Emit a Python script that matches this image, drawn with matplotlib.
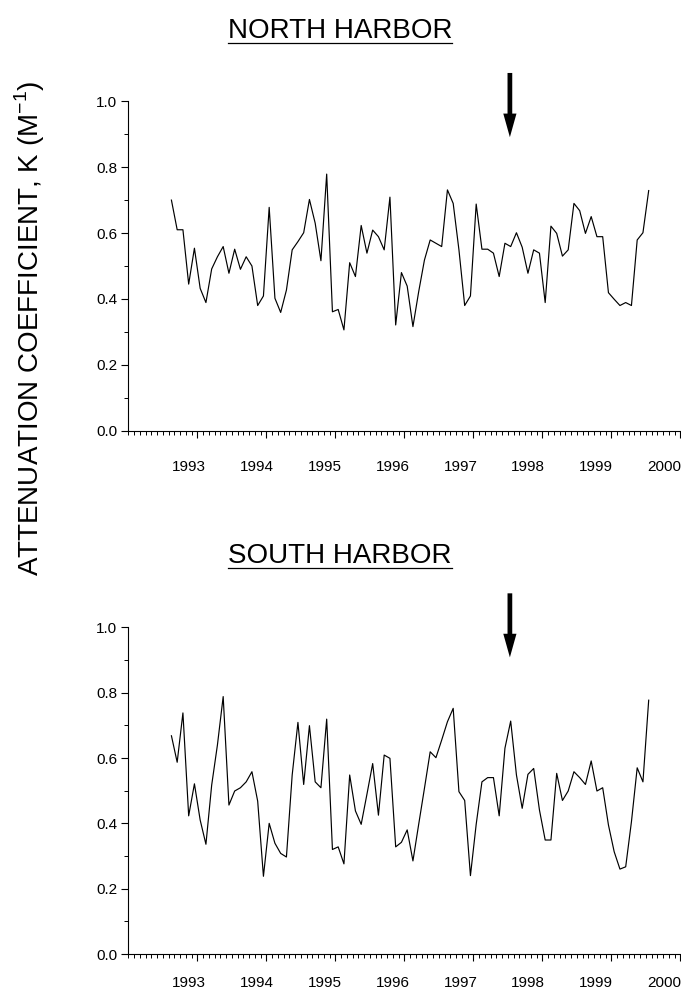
import numpy as np
import matplotlib.pyplot as plt
from matplotlib.lines import Line2D
from matplotlib.ticker import MultipleLocator
import matplotlib.transforms as mtransforms

plt.rcParams['font.family'] = ['Liberation Sans', 'DejaVu Sans']

# monthly samples, first one in Aug 1992
first_month = 1992 + 7.5 / 12.0

north = [0.70, 0.61, 0.61, 0.445, 0.554, 0.432, 0.389, 0.491, 0.528, 0.559,
         0.478, 0.551, 0.490, 0.528, 0.500, 0.380, 0.409, 0.678, 0.402, 0.359,
         0.427, 0.549, 0.574, 0.601, 0.702, 0.630, 0.516, 0.779, 0.361, 0.368,
         0.306, 0.510, 0.468, 0.623, 0.539, 0.609, 0.589, 0.549, 0.709, 0.321,
         0.480, 0.439, 0.316, 0.422, 0.518, 0.579, 0.569, 0.559, 0.731, 0.690,
         0.549, 0.380, 0.409, 0.688, 0.551, 0.551, 0.539, 0.468, 0.569, 0.559,
         0.601, 0.557, 0.478, 0.549, 0.539, 0.389, 0.621, 0.599, 0.530, 0.549,
         0.690, 0.668, 0.599, 0.650, 0.589, 0.589, 0.419, 0.399, 0.380, 0.389,
         0.380, 0.579, 0.601, 0.729]

south = [0.668, 0.587, 0.738, 0.423, 0.521, 0.410, 0.336, 0.517, 0.640, 0.788,
         0.456, 0.499, 0.509, 0.527, 0.558, 0.468, 0.238, 0.400, 0.339, 0.308,
         0.297, 0.548, 0.709, 0.519, 0.699, 0.527, 0.509, 0.719, 0.320, 0.328,
         0.276, 0.548, 0.438, 0.397, 0.489, 0.583, 0.425, 0.609, 0.599, 0.328,
         0.342, 0.380, 0.285, 0.397, 0.507, 0.619, 0.601, 0.655, 0.711, 0.752,
         0.497, 0.470, 0.240, 0.397, 0.527, 0.540, 0.540, 0.423, 0.630, 0.713,
         0.548, 0.446, 0.550, 0.568, 0.441, 0.349, 0.349, 0.553, 0.470, 0.499,
         0.558, 0.540, 0.519, 0.591, 0.499, 0.509, 0.395, 0.313, 0.260, 0.267,
         0.405, 0.570, 0.527, 0.777]

years = [1993, 1994, 1995, 1996, 1997, 1998, 1999, 2000]
arrow_x = 1997.53

fig = plt.figure(figsize=(6.81, 9.94), dpi=100)


def drawPanel(rect, values, title, title_y, arrow_top, arrow_tip, xpad):
    ax = fig.add_axes(rect)
    t = first_month + np.arange(len(values)) / 12.0
    ax.plot(t, values, color='black', lw=0.85)

    ax.set_xlim(1992, 2000)
    ax.set_ylim(0, 1.0)
    for s in ['top', 'right']:
        ax.spines[s].set_visible(False)
    for s in ['left', 'bottom']:
        ax.spines[s].set_linewidth(0.8)

    ax.set_xticks(years)
    ax.set_xticklabels([str(y) for y in years])
    ax.xaxis.set_minor_locator(MultipleLocator(1 / 12.0))
    ax.set_yticks([0.0, 0.2, 0.4, 0.6, 0.8, 1.0])
    ax.set_yticklabels(['0.0', '0.2', '0.4', '0.6', '0.8', '1.0'])
    ax.yaxis.set_minor_locator(MultipleLocator(0.1))

    ax.tick_params(axis='both', which='major', direction='out', length=5, width=0.8, labelsize=11)
    ax.tick_params(axis='both', which='minor', direction='out', length=3, width=0.7)
    ax.tick_params(axis='x', which='major', pad=xpad)
    ax.tick_params(axis='y', which='major', pad=3)

    # year labels sit a little to the left of their ticks
    labs = ax.get_xticklabels()
    for i, lab in enumerate(labs):
        dx = -8 - 1.2 * i
        shift = mtransforms.ScaledTranslation(dx / 100.0, 0, fig.dpi_scale_trans)
        lab.set_transform(lab.get_transform() + shift)

    ax.annotate('', xy=(arrow_x, arrow_tip), xytext=(arrow_x, arrow_top),
                arrowprops=dict(arrowstyle='simple,head_length=17,head_width=9.5,tail_width=3.4',
                                mutation_scale=1, fc='black', ec='none', lw=0,
                                shrinkA=0, shrinkB=0),
                annotation_clip=False)

    txt = fig.text(0.499, title_y, title, ha='center', va='baseline', fontsize=20)
    r = fig.canvas.get_renderer()
    bb = txt.get_window_extent(renderer=r)
    W, H = fig.bbox.width, fig.bbox.height
    uy = (bb.y0 + 1.0) / H
    fig.add_artist(Line2D([bb.x0 / W, bb.x1 / W], [uy, uy], color='black', lw=0.9,
                          transform=fig.transFigure))
    return ax


drawPanel([0.1884, 0.5667, 0.8106, 0.3314], north, 'NORTH HARBOR', 1 - 38 / 994.0, 1.086, 0.891, 16)
drawPanel([0.1884, 0.0402, 0.8106, 0.3287], south, 'SOUTH HARBOR', 1 - 563 / 994.0, 1.104, 0.908, 11)

fig.text(0.044, 1 - 328 / 994.0, 'ATTENUATION COEFFICIENT, K (M$^{\\mathregular{-1}}$)',
         rotation=90, ha='center', va='center', fontsize=20)

fig.savefig('out.png', dpi=100)
